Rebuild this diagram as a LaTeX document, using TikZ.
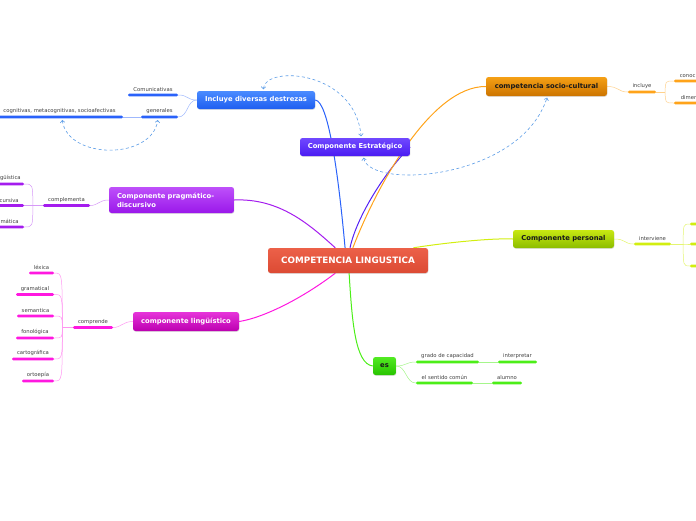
\documentclass[tikz,border=0pt]{standalone}
\usepackage{fontspec}
\setmainfont{DejaVu Sans}
\usetikzlibrary{positioning, arrows.meta, backgrounds, shadows}

\definecolor{rojoA}{HTML}{EC6149}
\definecolor{rojoB}{HTML}{DC4A33}
\definecolor{azulA}{HTML}{4A8BFF}
\definecolor{azulB}{HTML}{1F5EF0}
\definecolor{violA}{HTML}{7048FF}
\definecolor{violB}{HTML}{4A1BF2}
\definecolor{naraA}{HTML}{F5A015}
\definecolor{naraB}{HTML}{CC7400}
\definecolor{morA}{HTML}{BE50FA}
\definecolor{morB}{HTML}{9A18EA}
\definecolor{limaA}{HTML}{C8E812}
\definecolor{limaB}{HTML}{8CBD00}
\definecolor{magA}{HTML}{E634DA}
\definecolor{magB}{HTML}{BC00B0}
\definecolor{verA}{HTML}{52EA22}
\definecolor{verB}{HTML}{28C400}
\definecolor{lazul}{HTML}{2A62FA}
\definecolor{lviol}{HTML}{5522F5}
\definecolor{lnara}{HTML}{FFA31A}
\definecolor{lmor}{HTML}{A41CEE}
\definecolor{llima}{HTML}{D2EE10}
\definecolor{lmag}{HTML}{FF18E0}
\definecolor{lver}{HTML}{4CEE18}
\definecolor{relcol}{HTML}{5A9BE6}

\tikzset{
    tema/.style 2 args={rounded corners=2.5pt, top color=#1, bottom color=#2, draw=none,
        inner sep=0pt, minimum height=18pt, text=white,
        font=\bfseries\fontsize{6.8}{8}\selectfont,
        drop shadow={opacity=0.25, shadow xshift=0.4pt, shadow yshift=-0.8pt}},
    barra/.style={fill=#1, rounded corners=1.2pt, minimum height=2.6pt, inner sep=0pt},
    etiq/.style={font=\fontsize{5.3}{6}\selectfont, text=black!75, inner sep=0.8pt},
    rama/.style={line width=1pt, draw=#1},
    hilo/.style={line width=0.5pt, draw=#1},
    rel/.style={draw=relcol, line width=0.6pt, dash pattern=on 3pt off 2.5pt,
        shorten <=1.5pt, shorten >=1.5pt,
        {Straight Barb[length=2.2pt,width=4.5pt]}-{Straight Barb[length=2.2pt,width=4.5pt]}}
}

\begin{document}
\begin{tikzpicture}[x=1pt, y=-1pt, >=latex]
    \useasboundingbox (0,0) rectangle (696,520);
    \clip (0,0) rectangle (696,520);

    % Nodo central
    \node[tema={rojoA}{rojoB}, minimum width=160pt, minimum height=25pt,
        font=\bfseries\fontsize{8.8}{10}\selectfont] (comp) at (348,260.5) {COMPETENCIA LINGUSTICA};

    % Temas principales
    \node[tema={azulA}{azulB}, minimum width=118pt] (des) at (256,100) {Incluye diversas destrezas};
    \node[tema={violA}{violB}, minimum width=110pt] (est) at (355,147) {Componente Estratégico};
    \node[tema={naraA}{naraB}, minimum width=121pt, minimum height=19pt, text=black!90] (soc) at (546.5,86.5) {competencia socio-cultural};
    \node[tema={morA}{morB}, text width=109pt, align=left, inner xsep=8pt, minimum height=26pt,
        font=\bfseries\fontsize{6.8}{9}\selectfont] (pra) at (171.5,200) {Componente pragmático-\\discursivo};
    \node[tema={limaA}{limaB}, minimum width=101pt, text=black!90] (per) at (563.5,239) {Componente personal};
    \node[tema={magA}{magB}, minimum width=106pt, minimum height=19pt] (lin) at (186,321.5) {componente lingüístico};
    \node[tema={verA}{verB}, minimum width=23pt, text=black!90] (es) at (384.5,366) {es};

    % Destrezas
    \node[barra=lazul, minimum width=50pt] (com) at (153,95) {};
    \node[barra=lazul, minimum width=37pt] (gen) at (159.5,117) {};
    \node[barra=lazul, minimum width=127pt] (cog) at (59.5,117) {};
    \node[etiq, above=0.6pt of com] (comT) {Comunicativas};
    \node[etiq, above=0.6pt of gen] (genT) {generales};
    \node[etiq, above=0.6pt of cog] (cogT) {cognitivas, metacognitivas, socioafectivas};

    % Socio-cultural
    \node[barra=lnara, minimum width=28pt] (inc) at (642,92) {};
    \node[barra=lnara, minimum width=30pt] (kb1) at (689,81) {};
    \node[barra=lnara, minimum width=30pt] (kb2) at (689,103) {};
    \node[etiq, above=0.6pt of inc] (incT) {incluye};
    \node[etiq, anchor=south west] (kt1) at ([xshift=5pt,yshift=0.6pt]kb1.north west) {conoc};
    \node[etiq, anchor=south west] (kt2) at ([xshift=6pt,yshift=0.6pt]kb2.north west) {dimen};

    % Pragmatico-discursivo
    \node[barra=lmor, minimum width=47pt] (cpl) at (66.5,205.5) {};
    \node[barra=lmor, minimum width=30pt] (pb1) at (9,184) {};
    \node[barra=lmor, minimum width=30pt] (pb2) at (9,205.5) {};
    \node[barra=lmor, minimum width=30pt] (pb3) at (9,227) {};
    \node[etiq, above=0.6pt of cpl] (cplT) {complementa};
    \node[etiq, anchor=south east] (pt1) at ([xshift=-2.5pt,yshift=0.6pt]pb1.north east) {güística};
    \node[etiq, anchor=south east] (pt2) at ([xshift=-4.5pt,yshift=0.6pt]pb2.north east) {cursiva};
    \node[etiq, anchor=south east] (pt3) at ([xshift=-4.5pt,yshift=0.6pt]pb3.north east) {mática};

    % Linguistico
    \node[barra=lmag, minimum width=40pt] (cpr) at (93,327.5) {};
    \node[barra=lmag, minimum width=25pt] (lex) at (41.5,273) {};
    \node[barra=lmag, minimum width=38pt] (gra) at (35,294.5) {};
    \node[barra=lmag, minimum width=37pt] (sem) at (35.5,316) {};
    \node[barra=lmag, minimum width=38pt] (fon) at (35,338) {};
    \node[barra=lmag, minimum width=42pt] (car) at (33,359) {};
    \node[barra=lmag, minimum width=32pt] (ort) at (38,381) {};
    \node[etiq, above=0.6pt of cpr] (cprT) {comprende};
    \node[etiq, above=0.6pt of lex] (lexT) {léxica};
    \node[etiq, above=0.6pt of gra] (graT) {gramatical};
    \node[etiq, above=0.6pt of sem] (semT) {semantica};
    \node[etiq, above=0.6pt of fon] (fonT) {fonológica};
    \node[etiq, above=0.6pt of car] (carT) {cartográfica};
    \node[etiq, above=0.6pt of ort] (ortT) {ortoepía};

    % Personal
    \node[barra=llima, minimum width=37pt] (itv) at (652.5,244) {};
    \node[barra=llima, minimum width=16pt] (yb1) at (698,224) {};
    \node[barra=llima, minimum width=16pt] (yb2) at (698,244) {};
    \node[barra=llima, minimum width=16pt] (yb3) at (698,266) {};
    \node[etiq, above=0.6pt of itv] (itvT) {interviene};

    % es
    \node[barra=lver, minimum width=63pt] (grd) at (447.5,362) {};
    \node[barra=lver, minimum width=39pt] (itp) at (517.5,362) {};
    \node[barra=lver, minimum width=57pt] (sen) at (444.5,383) {};
    \node[barra=lver, minimum width=30pt] (alu) at (507,383) {};
    \node[etiq, above=0.6pt of grd] (grdT) {grado de capacidad};
    \node[etiq, above=0.6pt of itp] (itpT) {interpretar};
    \node[etiq, above=0.6pt of sen] (senT) {el sentido común};
    \node[etiq, above=0.6pt of alu] (aluT) {alumno};

    \begin{scope}[on background layer]
        % Ramas principales
        \draw[rama=lazul] (comp.103) .. controls (338,170) and (328,101) .. (des.east);
        \draw[rama=lviol] (comp.81) .. controls (357,215) and (388,168) .. (est.east);
        \draw[rama=lnara] (comp.69) .. controls (375,190) and (430,86) .. (soc.west);
        \draw[rama=lmor] (comp.135) .. controls (310,225) and (280,198) .. (pra.east);
        \draw[rama=llima] (comp.11) .. controls (450,242) and (495,238) .. (per.west);
        \draw[rama=lmag] (comp.225) .. controls (300,300) and (262,318) .. (lin.east);
        \draw[rama=lver] (comp.275) .. controls (352,320) and (355,364) .. (es.west);

        % Subramas
        \draw[hilo=lazul!45] (des.west) .. controls +(-10,0) and +(10,0) .. (com.east);
        \draw[hilo=lazul!45] (des.west) .. controls +(-10,0) and +(10,0) .. (gen.east);
        \draw[hilo=lazul!45] (gen.west) -- (cog.east);

        \draw[hilo=lnara!50] (soc.east) .. controls +(12,0) and +(-10,0) .. (inc.west);
        \coordinate (kc) at ([xshift=9pt]inc.east);
        \draw[hilo=lnara!50] (inc.east) -- (kc);
        \foreach \b in {kb1,kb2}
            \draw[hilo=lnara!50] (kc) .. controls (kc |- \b.west) .. (\b.west);

        \draw[hilo=lmor!45] (pra.west) .. controls +(-10,0) and +(8,0) .. (cpl.east);
        \coordinate (pc) at ([xshift=-10pt]cpl.west);
        \draw[hilo=lmor!45] (cpl.west) -- (pc);
        \foreach \b in {pb1,pb2,pb3}
            \draw[hilo=lmor!45] (pc) .. controls (pc |- \b.east) .. (\b.east);

        \draw[hilo=lmag!45] (lin.west) .. controls +(-10,0) and +(8,0) .. (cpr.east);
        \coordinate (mc) at ([xshift=-10.5pt]cpr.west);
        \draw[hilo=lmag!45] (cpr.west) -- (mc);
        \foreach \b in {lex,gra,sem,fon,car,ort}
            \draw[hilo=lmag!45] (mc) .. controls (mc |- \b.east) .. (\b.east);

        \draw[hilo=llima!60] (per.east) .. controls +(12,0) and +(-10,0) .. (itv.west);
        \coordinate (yc) at ([xshift=12pt]itv.east);
        \draw[hilo=llima!60] (itv.east) -- (yc);
        \foreach \b in {yb1,yb2,yb3}
            \draw[hilo=llima!60] (yc) .. controls (yc |- \b.west) .. (\b.west);

        \draw[hilo=lver!50] (es.east) .. controls +(10,0) and +(-10,0) .. (grd.west);
        \draw[hilo=lver!50] (es.east) .. controls +(10,0) and +(-10,0) .. (sen.west);
        \draw[hilo=lver!50] (grd.east) -- (itp.west);
        \draw[hilo=lver!50] (sen.east) -- (alu.west);
    \end{scope}

    % Relaciones
    \draw[rel] (des.52) .. controls (265,65) and (355,70) .. (est.56);
    \draw[rel] (est.-48) .. controls (370,190) and (520,180) .. (soc.-84);
    \draw[rel] ([xshift=2.5pt]cog.south) .. controls (68,160) and (152,160) .. ([xshift=-1.5pt]gen.south);
\end{tikzpicture}
\end{document}
